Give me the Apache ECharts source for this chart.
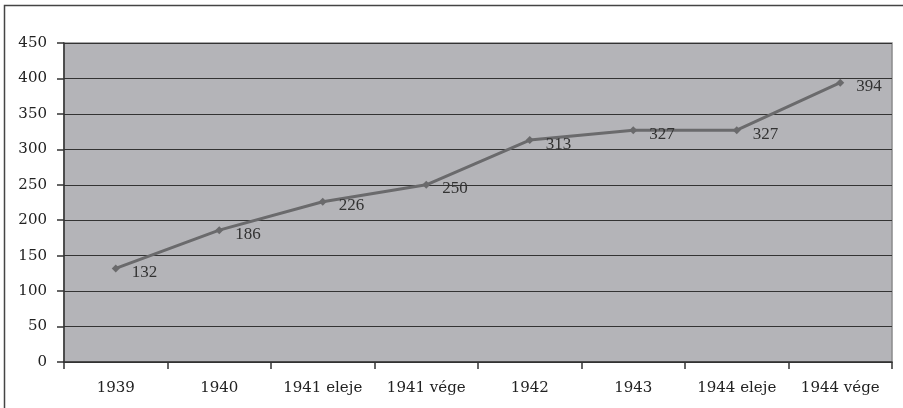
<!DOCTYPE html>
<html><head><meta charset="utf-8">
<script src="https://cdn.jsdelivr.net/npm/echarts@6/dist/echarts.min.js"></script>
<style>html,body{margin:0;padding:0;background:#fff}#c{width:903px;height:408px}</style>
</head><body><div id="c"></div>
<script>
const categories = ['1939','1940','1941 eleje','1941 vége','1942','1943','1944 eleje','1944 vége'];
const values = [132,186,226,250,313,327,327,394];
const yTicks = {min:0, max:450, interval:50};

const chart = echarts.init(document.getElementById('c'));
const axisFont = '"DejaVu Serif", serif';
const labelFont = '"Liberation Serif", serif';
chart.setOption({
  animation:false,
  graphic:[{type:'rect',shape:{x:4.5,y:5.5,width:1000,height:1000},style:{fill:'none',stroke:'#444',lineWidth:1.5},z:-1}],
  grid:{left:64,right:11,top:43,bottom:46,show:true,backgroundColor:'#b4b4b8',borderColor:'#8a8a8c',borderWidth:1.5},
  xAxis:{type:'category',data:categories,boundaryGap:true,
    axisLine:{lineStyle:{color:'#333',width:1.5}},
    axisTick:{show:true,length:7,lineStyle:{color:'#333',width:1.5},alignWithLabel:false},
    axisLabel:{color:'#222',fontFamily:axisFont,fontSize:15,margin:19}},
  yAxis:{type:'value',min:yTicks.min,max:yTicks.max,interval:yTicks.interval,
    axisLine:{show:true,lineStyle:{color:'#333',width:1.5}},
    axisTick:{show:true,length:7,lineStyle:{color:'#333',width:1.5}},
    splitLine:{show:true,lineStyle:{color:'#333',width:1.2}},
    axisLabel:{color:'#222',fontFamily:axisFont,fontSize:15,margin:17}},
  series:[{type:'line',data:values,symbol:'diamond',symbolSize:8,
    lineStyle:{color:'#6a6a6c',width:3},itemStyle:{color:'#6a6a6c'},
    label:{show:true,position:'right',offset:[7,4],color:'#333',fontFamily:labelFont,fontSize:17}}]
});
</script></body></html>
